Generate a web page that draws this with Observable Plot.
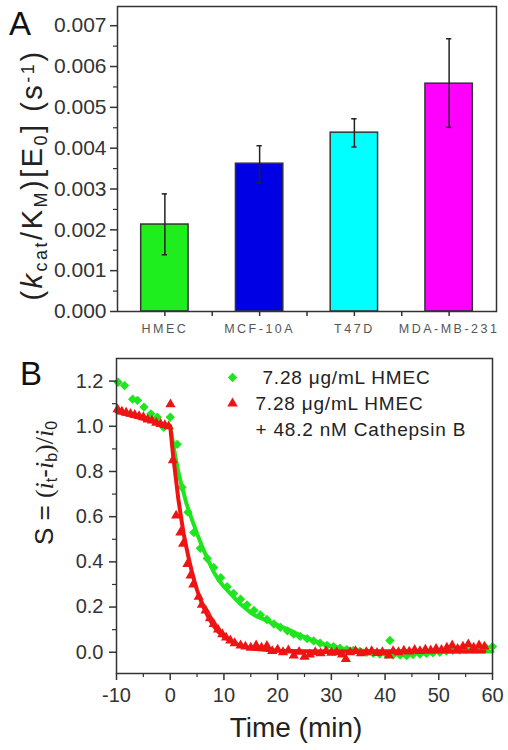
<!DOCTYPE html>
<html>
<head>
<meta charset="utf-8">
<script src="https://cdn.jsdelivr.net/npm/d3@7"></script>
<script src="https://cdn.jsdelivr.net/npm/@observablehq/plot@0.6"></script>
<style>
  body { margin: 0; background: #fff; }
  #chart svg { display: block; }
</style>
</head>
<body>
<div id="chart"></div>
<script>
// ---------- Panel A data ----------
const cells = ["HMEC", "MCF-10A", "T47D", "MDA-MB-231"];
const rateMean = [0.00213, 0.00362, 0.00438, 0.00558];
const rateLow = [0.00139, 0.00315, 0.00403, 0.00451];
const rateHigh = [0.00288, 0.00406, 0.00472, 0.00668];
const barColors = ["#1eee1e", "#0000e4", "#00ffff", "#ff00ff"];
const yTicksA = [0, 0.001, 0.002, 0.003, 0.004, 0.005, 0.006, 0.007];
const yMinorA = [0.0005, 0.0015, 0.0025, 0.0035, 0.0045, 0.0055, 0.0065];
const xPosA = [1, 2, 3, 4];
const xMinorA = [1.5, 2.5, 3.5];

// ---------- Panel B data ----------
const hmecT = [-9.7, -8.5, -7.0, -6.1, -4.9, -3.6, -2.4, -1.2, 0.0,
  1.3, 2.2, 3.3, 4.4, 5.6, 6.9, 8.1, 9.4, 10.6, 11.8, 13.1, 14.3, 15.6, 16.8, 18.0, 19.3,
  20.5, 21.8, 23.0, 24.2, 25.5, 26.7, 27.9, 29.2, 30.4, 31.6, 32.9, 34.1, 35.3, 36.6, 37.8,
  39.0, 40.3, 40.9, 41.5, 42.8, 44.0, 45.2, 46.5, 47.7, 48.9, 50.2, 51.4, 52.6, 53.9, 55.1,
  56.3, 57.6, 58.8, 60.0];
const hmecS = [1.195, 1.18, 1.12, 1.115, 1.085, 1.055, 1.04, 0.995, 1.04,
  0.92, 0.73, 0.62, 0.53, 0.46, 0.415, 0.375, 0.33, 0.29, 0.26, 0.235, 0.21, 0.185, 0.165, 0.145, 0.125,
  0.11, 0.095, 0.08, 0.07, 0.06, 0.05, 0.04, 0.03, 0.025, 0.018, 0.012, 0.008, 0.004, 0.0, -0.005,
  -0.008, -0.01, 0.052, -0.012, -0.012, -0.015, -0.01, -0.008, -0.005, -0.003, 0.0, 0.005, 0.008, 0.01, 0.012,
  0.015, 0.018, 0.02, 0.025];
const hmecFitT = [0, 0.5, 1, 1.5, 2, 3, 4, 5, 6, 7, 8, 9, 10, 11, 12, 13, 14, 15, 16, 17, 18, 19, 20,
  22, 24, 26, 28, 30, 32, 34, 36, 38, 40, 45, 50, 55, 60];
const hmecFitS = [1.0, 0.93, 0.86, 0.8, 0.75, 0.66, 0.59, 0.525, 0.465, 0.41, 0.36, 0.32, 0.29, 0.265, 0.24,
  0.215, 0.195, 0.175, 0.16, 0.15, 0.14, 0.13, 0.12, 0.1, 0.077, 0.058, 0.04, 0.026, 0.017, 0.011, 0.007,
  0.005, 0.004, 0.003, 0.003, 0.003, 0.003];

const catT = [-9.8, -9.0, -8.2, -7.4, -6.6, -5.8, -5.0, -4.2, -3.4, -2.6, -1.8, -1.0, -0.3, 0.05,
  0.5, 1.1, 1.9, 2.4, 3.2, 3.8, 4.3, 5.3, 5.9, 6.6, 7.4, 8.1, 8.9, 9.7, 10.4, 11.2, 12.0, 13.1, 14.0, 15.0,
  16, 17, 18, 19, 20, 21, 22, 23, 24, 25, 26, 27, 28, 29, 30, 31, 32, 32.7, 33.5, 34.5, 35.5, 36.5, 37.5,
  38.5, 39.5, 40.7, 41.5, 42.5, 43.5, 44.5, 45.5, 46.5, 47.5, 48.5, 49.5, 50.5, 51.5, 52.5, 53.5, 54.5,
  55.5, 56.5, 57.5, 58.5];
const catS = [1.075, 1.065, 1.06, 1.055, 1.05, 1.045, 1.04, 1.03, 1.025, 1.015, 1.01, 1.005, 1.0, 1.097,
  0.85, 0.605, 0.53, 0.48, 0.39, 0.34, 0.3, 0.245, 0.21, 0.185, 0.15, 0.125, 0.1, 0.08, 0.065, 0.052, 0.04,
  0.03, 0.025, 0.02, 0.03, 0.02, 0.028, 0.005, 0.012, 0.0, 0.008, -0.015, 0.002, -0.02, -0.01, 0.0, -0.005,
  0.005, -0.002, 0.0, -0.01, -0.03, 0.0, 0.005, -0.005, 0.0, 0.005, -0.003, 0.0, -0.015, 0.005, 0.0, 0.007,
  0.003, 0.01, 0.005, 0.012, 0.008, 0.015, 0.01, 0.02, 0.03, 0.015, 0.025, 0.035, 0.02, 0.03, 0.025];
const catFitT = [-10, 0, 0.5, 1, 1.5, 2, 2.5, 3, 3.5, 4, 4.5, 5, 6, 7, 8, 9, 10, 11, 12, 13, 14, 15, 16,
  18, 20, 25, 30, 40, 50, 58.5];
const catFitS = [1.065, 1.0, 0.88, 0.78, 0.68, 0.6, 0.525, 0.465, 0.41, 0.36, 0.315, 0.275, 0.21, 0.16,
  0.12, 0.09, 0.07, 0.053, 0.04, 0.03, 0.024, 0.018, 0.014, 0.01, 0.007, 0.004, 0.003, 0.003, 0.003, 0.003];

const xTicksB = [-10, 0, 10, 20, 30, 40, 50, 60];
const xMinorB = [-5, 5, 15, 25, 35, 45, 55];
const yTicksB = [0, 0.2, 0.4, 0.6, 0.8, 1.0, 1.2];
const yMinorB = [0.1, 0.3, 0.5, 0.7, 0.9, 1.1];
const legendText = ["7.28 \u03bcg/mL HMEC", "7.28 \u03bcg/mL HMEC", "+ 48.2 nM Cathepsin B"];

const green = "#1ee61e";
const red = "#ee1414";
const axisColor = "#333";
const sans = "'Liberation Sans', Arial, sans-serif";
const serif = "'Liberation Serif', 'Times New Roman', serif";

// ---------- build tables ----------
const bars = cells.map((c, i) => ({cell: c, pos: xPosA[i], mean: rateMean[i], low: rateLow[i], high: rateHigh[i], color: barColors[i]}));
const hmec = hmecT.map((t, i) => ({t, s: hmecS[i]}));
const hmecFit = hmecFitT.map((t, i) => ({t, s: hmecFitS[i]}));
const cat = catT.map((t, i) => ({t, s: catS[i]}));
const catFit = catFitT.map((t, i) => ({t, s: catFitS[i]}));

const plotA = Plot.plot({
  width: 508, height: 340,
  marginLeft: 117, marginRight: 12, marginTop: 6, marginBottom: 29,
  style: {fontFamily: sans, fontSize: "21px", color: axisColor, background: "#fff"},
  x: {domain: [0.5, 4.5]},
  y: {domain: [0, 0.00747]},
  color: {type: "identity"},
  marks: [
    Plot.rectY(bars, {x1: d => d.pos - 0.25, x2: d => d.pos + 0.25, y1: 0, y2: "mean", fill: "color", stroke: "#333", strokeWidth: 1.5}),
    Plot.ruleX(bars, {x: "pos", y1: "low", y2: "high", stroke: "#222", strokeWidth: 1.5}),
    Plot.ruleY(bars, {x1: d => d.pos - 0.028, x2: d => d.pos + 0.028, y: "high", stroke: "#222", strokeWidth: 1.5}),
    Plot.ruleY(bars, {x1: d => d.pos - 0.028, x2: d => d.pos + 0.028, y: "low", stroke: "#222", strokeWidth: 1.5}),
    Plot.axisY({ticks: yTicksA, tickSize: 7, tickPadding: 4, tickFormat: d => d.toFixed(3), label: null, stroke: axisColor, strokeWidth: 1.5, fontSize: 21}),
    Plot.axisY({ticks: yMinorA, tickSize: 4, tickFormat: () => "", label: null, stroke: axisColor, strokeWidth: 1.2}),
    Plot.axisX({ticks: xPosA, tickSize: 5, tickPadding: 8, tickFormat: d => cells[d - 1], label: null, stroke: axisColor, strokeWidth: 1.5, fontSize: 12.5, fill: "#555"}),
    Plot.axisX({ticks: xMinorA, tickSize: 5, tickFormat: () => "", label: null, stroke: axisColor, strokeWidth: 1.5}),
    Plot.frame({stroke: axisColor, strokeWidth: 1.5})
  ]
});

const plotB = Plot.plot({
  width: 508, height: 410,
  marginLeft: 116, marginRight: 16, marginTop: 18, marginBottom: 77,
  style: {fontFamily: sans, fontSize: "20px", color: axisColor, background: "#fff"},
  x: {domain: [-10, 60]},
  y: {domain: [-0.094, 1.3]},
  marks: [
    Plot.line(hmecFit, {x: "t", y: "s", stroke: green, strokeWidth: 4}),
    Plot.dot(hmec, {x: "t", y: "s", symbol: "diamond2", r: 4.2, fill: green, stroke: "none"}),
    Plot.line(catFit, {x: "t", y: "s", stroke: red, strokeWidth: 4}),
    Plot.dot(cat, {x: "t", y: "s", symbol: "triangle", r: 3.8, fill: red, stroke: "none"}),
    Plot.dot([legendText[0]], {frameAnchor: "top-left", dx: 116, dy: 19, symbol: "diamond2", r: 4.2, fill: green, stroke: "none"}),
    Plot.dot([legendText[1]], {frameAnchor: "top-left", dx: 116, dy: 45, symbol: "triangle", r: 3.9, fill: red, stroke: "none"}),
    Plot.text([legendText[0]], {text: d => d, frameAnchor: "top-left", dx: 146, dy: 19, textAnchor: "start", lineAnchor: "middle", fontSize: 19, fill: "#222"}),
    Plot.text([legendText[1]], {text: d => d, frameAnchor: "top-left", dx: 139, dy: 45, textAnchor: "start", lineAnchor: "middle", fontSize: 19, fill: "#222"}),
    Plot.text([legendText[2]], {text: d => d, frameAnchor: "top-left", dx: 139, dy: 71, textAnchor: "start", lineAnchor: "middle", fontSize: 19, fill: "#222"}),
    Plot.axisY({ticks: yTicksB, tickSize: 7, tickPadding: 6, tickFormat: d => d.toFixed(1), label: null, stroke: axisColor, strokeWidth: 1.5, fontSize: 20}),
    Plot.axisY({ticks: yMinorB, tickSize: 4, tickFormat: () => "", label: null, stroke: axisColor, strokeWidth: 1.2}),
    Plot.axisX({ticks: xTicksB, tickSize: 7, tickPadding: 7, tickFormat: d => String(d), label: null, stroke: axisColor, strokeWidth: 1.5, fontSize: 20}),
    Plot.axisX({ticks: xMinorB, tickSize: 4, tickFormat: () => "", label: null, stroke: axisColor, strokeWidth: 1.2}),
    Plot.frame({stroke: axisColor, strokeWidth: 1.5})
  ]
});

const chart = document.getElementById("chart");
chart.appendChild(plotA);
chart.appendChild(plotB);

// ---------- rich-text titles ----------
function rich(svg, parts, attrs) {
  const t = d3.select(svg).append("text")
    .attr("transform", attrs.transform || null)
    .attr("x", attrs.x || 0).attr("y", attrs.y || 0)
    .attr("text-anchor", attrs.anchor || "middle")
    .attr("fill", attrs.fill || "#222")
    .style("font-family", sans)
    .style("font-size", attrs.size + "px");
  if (attrs.spacing) t.style("letter-spacing", attrs.spacing + "px");
  for (const p of parts) {
    const s = t.append("tspan").text(p.t);
    if (p.it) s.style("font-style", "italic");
    if (p.serif) s.style("font-family", serif);
    if (p.sub) s.attr("baseline-shift", "-28%").style("font-size", Math.round(attrs.size * 0.62) + "px");
    if (p.sup) s.attr("baseline-shift", "45%").style("font-size", Math.round(attrs.size * 0.62) + "px");
  }
  return t;
}

// letter spacing for category labels and legend
d3.select(plotA).selectAll('g[aria-label="x-axis tick label"] text').style("letter-spacing", "2.5px");
d3.select(plotB).selectAll('g[aria-label="text"] text').style("letter-spacing", "0.8px");

// Panel letters
rich(plotA, [{t: "A"}], {x: 9, y: 35, anchor: "start", size: 33, fill: "#111"});
rich(plotB, [{t: "B"}], {x: 20, y: 45, anchor: "start", size: 33, fill: "#111"});

// Y title A
rich(plotA, [
  {t: "("}, {t: "k", it: true}, {t: "cat", sub: true}, {t: "/K"}, {t: "M", sub: true},
  {t: ")[E"}, {t: "0", sub: true}, {t: "] (s"}, {t: "-1", sup: true}, {t: ")"}
], {transform: "translate(42,175) rotate(-90)", size: 29, spacing: 2.5});

// Y title B
rich(plotB, [
  {t: "S = "}, {t: "(", serif: true}, {t: "i", it: true, serif: true}, {t: "t", sub: true},
  {t: "-"}, {t: "i", it: true, serif: true}, {t: "b", sub: true}, {t: ")/", serif: true},
  {t: "i", it: true, serif: true}, {t: "0", sub: true}
], {transform: "translate(53,143) rotate(-90)", size: 26});

// X title B
rich(plotB, [{t: "Time (min)"}], {x: 296, y: 397, size: 28});
</script>
</body>
</html>
